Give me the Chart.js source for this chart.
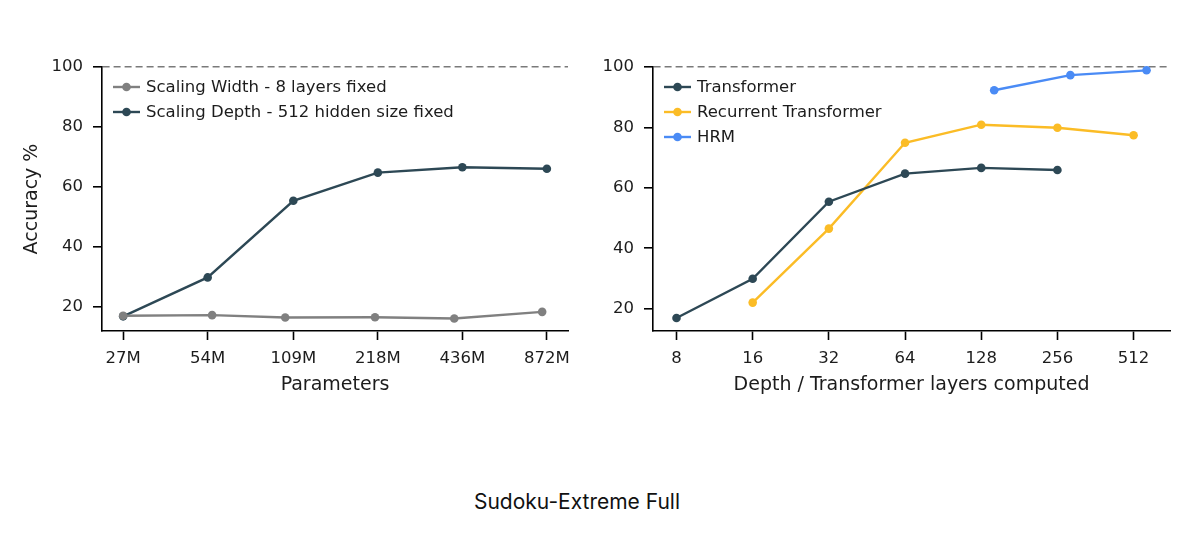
<!DOCTYPE html>
<html>
<head>
<meta charset="utf-8">
<script src="https://cdn.jsdelivr.net/npm/chart.js@4/dist/chart.umd.min.js"></script>
<style>
  body { margin: 0; background: #fff; width: 1200px; height: 539px; position: relative; overflow: hidden; }
  canvas { position: absolute; top: 0; }
  #leftChart { left: 0; }
  #rightChart { left: 600px; }
  #caption { position: absolute; left: 0; width: 1154px; top: 489px; text-align: center;
             font-family: Inter, "Noto Sans", sans-serif; font-size: 21px; line-height: 26px; color: #111; }
</style>
</head>
<body>
<canvas id="leftChart" width="600" height="420"></canvas>
<canvas id="rightChart" width="600" height="420"></canvas>
<div id="caption">Sudoku-Extreme Full</div>
<script>
// DATA - left panel (parameters in millions)
var paramTicks = [27, 54, 109, 218, 436, 872];
var paramLabels = ["27M", "54M", "109M", "218M", "436M", "872M"];
var widthParams = [27, 56, 102, 213, 408, 839];
var widthAcc = [16.9, 17.1, 16.3, 16.4, 16.0, 18.2];
var depthAcc = [16.7, 29.7, 55.3, 64.7, 66.5, 66.0];

// DATA - right panel (layers computed)
var layerTicks = [8, 16, 32, 64, 128, 256, 512];
var layerLabels = ["8", "16", "32", "64", "128", "256", "512"];
var transformerLayers = [8, 16, 32, 64, 128, 256];
var transformerAcc = [16.9, 29.9, 55.4, 64.7, 66.6, 65.9];
var recurrentLayers = [16, 32, 64, 128, 256, 512];
var recurrentAcc = [22.0, 46.5, 74.9, 80.9, 79.9, 77.4];
var hrmLayers = [144, 288, 576];
var hrmAcc = [92.3, 97.3, 98.9];

var yTicks = [20, 40, 60, 80, 100];

var DARK = "#2d4855";
var GRAY = "#808080";
var YELLOW = "#fbbc26";
var BLUE = "#4a8bf5";
var FONT = "'DejaVu Sans', sans-serif";

function toPoints(xs, ys) {
    return xs.map(function(x, i) { return { x: x, y: ys[i] }; });
}

function lineSet(label, color, xs, ys) {
    return {
        label: label,
        data: toPoints(xs, ys),
        borderColor: color,
        backgroundColor: color,
        borderWidth: 2.4,
        pointRadius: 4.3,
        pointHoverRadius: 4.3,
        pointBorderWidth: 0,
        tension: 0,
        clip: false
    };
}

//LEGEND DRAWN INSIDE THE PLOT (line + marker like matplotlib)
var lineLegend = {
    id: "lineLegend",
    afterDatasetsDraw: function(chart, args, opts) {
        var ctx = chart.ctx;
        ctx.save();
        ctx.font = "16.5px " + FONT;
        ctx.textBaseline = "middle";
        chart.data.datasets.forEach(function(ds, i) {
            var y = opts.y + i * 25;
            ctx.strokeStyle = ds.borderColor;
            ctx.lineWidth = 2.4;
            ctx.beginPath();
            ctx.moveTo(opts.x, y);
            ctx.lineTo(opts.x + 27, y);
            ctx.stroke();
            ctx.fillStyle = ds.borderColor;
            ctx.beginPath();
            ctx.arc(opts.x + 13.5, y, 4.3, 0, Math.PI * 2);
            ctx.fill();
            ctx.fillStyle = "#1c1c1c";
            ctx.fillText(ds.label, opts.x + 33, y + 1);
        });
        ctx.restore();
    }
};

function makeOptions(cfg) {
    return {
        responsive: false,
        animation: false,
        devicePixelRatio: 1,
        layout: { padding: { top: 67, right: cfg.padRight, left: 0, bottom: 0 } },
        plugins: {
            legend: { display: false },
            tooltip: { enabled: false },
            lineLegend: { x: cfg.legendX, y: 87 }
        },
        scales: {
            x: {
                type: "logarithmic",
                min: cfg.xMin,
                max: cfg.xMax,
                afterBuildTicks: function(scale) {
                    scale.ticks = cfg.xTicks.map(function(v) { return { value: v }; });
                },
                afterFit: function(scale) { scale.height = 89; },
                ticks: {
                    autoSkip: false,
                    maxRotation: 0,
                    padding: 9,
                    color: "#1c1c1c",
                    font: { family: FONT, size: 16.5 },
                    callback: function(v, i) { return cfg.xLabels[i]; }
                },
                grid: { drawOnChartArea: false, drawTicks: true, tickLength: 9, tickColor: "#000", tickWidth: 1.6 },
                border: { display: true, color: "#000", width: 1.6 },
                title: {
                    display: true,
                    text: cfg.xTitle,
                    color: "#1c1c1c",
                    font: { family: FONT, size: 19 },
                    padding: { top: 0, bottom: 24 }
                }
            },
            y: {
                min: cfg.yMin,
                max: 100,
                afterBuildTicks: function(scale) {
                    scale.ticks = yTicks.map(function(v) { return { value: v }; });
                },
                afterFit: function(scale) { scale.width = cfg.yWidth; },
                ticks: {
                    padding: 10,
                    color: "#1c1c1c",
                    font: { family: FONT, size: 16.5 }
                },
                grid: {
                    drawTicks: true,
                    tickLength: 9,
                    tickColor: "#000",
                    tickWidth: 1.6,
                    tickBorderDash: [],
                    lineWidth: 1.6,
                    color: function(c) {
                        return c.tick && c.tick.value === 100 ? "#7a7a7a" : "rgba(0,0,0,0)";
                    }
                },
                // border.dash styles the grid lines (only the 100% line is visible)
                border: { display: true, color: "#000", width: 1.6, dash: [7, 4] },
                title: {
                    display: cfg.yTitle !== "",
                    text: cfg.yTitle,
                    color: "#1c1c1c",
                    font: { family: FONT, size: 19 },
                    padding: { top: 21, bottom: 0 }
                }
            }
        }
    };
}

var leftChart = new Chart(document.getElementById("leftChart").getContext("2d"), {
    type: "line",
    data: {
        datasets: [
            lineSet("Scaling Width - 8 layers fixed", GRAY, widthParams, widthAcc),
            lineSet("Scaling Depth - 512 hidden size fixed", DARK, paramTicks, depthAcc)
        ]
    },
    options: makeOptions({
        padRight: 32, yWidth: 102, legendX: 113,
        xMin: 22.7, xMax: 1037, xTicks: paramTicks, xLabels: paramLabels,
        xTitle: "Parameters", yMin: 11.8, yTitle: "Accuracy %"
    }),
    plugins: [lineLegend]
});

var rightChart = new Chart(document.getElementById("rightChart").getContext("2d"), {
    type: "line",
    data: {
        datasets: [
            lineSet("Transformer", DARK, transformerLayers, transformerAcc),
            lineSet("Recurrent Transformer", YELLOW, recurrentLayers, recurrentAcc),
            lineSet("HRM", BLUE, hrmLayers, hrmAcc)
        ]
    },
    options: makeOptions({
        padRight: 30, yWidth: 53, legendX: 64,
        xMin: 6.46, xMax: 713, xTicks: layerTicks, xLabels: layerLabels,
        xTitle: "Depth / Transformer layers computed", yMin: 12.6, yTitle: ""
    }),
    plugins: [lineLegend]
});
</script>
</body>
</html>
